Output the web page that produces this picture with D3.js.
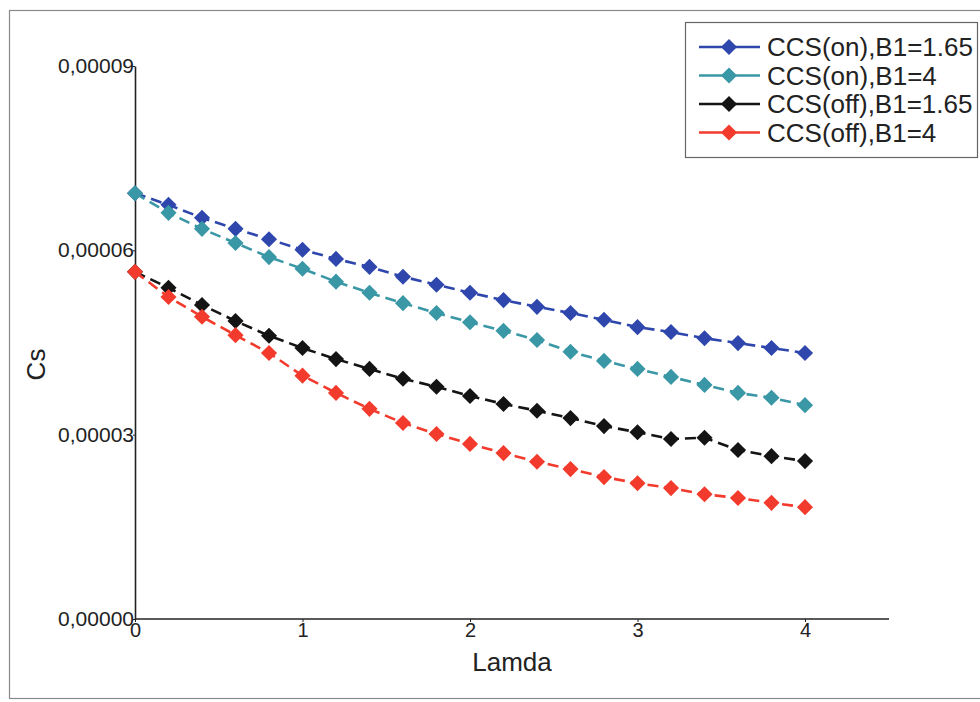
<!DOCTYPE html>
<html>
<head>
<meta charset="utf-8">
<script src="https://cdn.jsdelivr.net/npm/d3@7/dist/d3.min.js"></script>
<style>
  html, body { margin: 0; padding: 0; background: #fff; }
  svg { display: block; font-family: "Liberation Sans", Arial, sans-serif; }
</style>
</head>
<body>
<svg id="chart" width="980" height="702"></svg>
<script>
// Lamda values (x) shared by all series
const lamda = [0, 0.2, 0.4, 0.6, 0.8, 1.0, 1.2, 1.4, 1.6, 1.8, 2.0,
               2.2, 2.4, 2.6, 2.8, 3.0, 3.2, 3.4, 3.6, 3.8, 4.0];

// Cs values per series
const csOn165 = [6.93e-5, 6.74e-5, 6.53e-5, 6.35e-5, 6.18e-5, 6.01e-5, 5.86e-5, 5.73e-5, 5.57e-5, 5.44e-5, 5.31e-5,
                 5.19e-5, 5.08e-5, 4.98e-5, 4.87e-5, 4.75e-5, 4.67e-5, 4.57e-5, 4.49e-5, 4.41e-5, 4.33e-5];
const csOn4   = [6.93e-5, 6.61e-5, 6.35e-5, 6.12e-5, 5.89e-5, 5.70e-5, 5.49e-5, 5.31e-5, 5.14e-5, 4.98e-5, 4.83e-5,
                 4.69e-5, 4.54e-5, 4.35e-5, 4.20e-5, 4.07e-5, 3.94e-5, 3.81e-5, 3.68e-5, 3.60e-5, 3.48e-5];
const csOff165 = [5.65e-5, 5.39e-5, 5.11e-5, 4.85e-5, 4.61e-5, 4.41e-5, 4.23e-5, 4.07e-5, 3.91e-5, 3.78e-5, 3.63e-5,
                  3.50e-5, 3.39e-5, 3.27e-5, 3.14e-5, 3.04e-5, 2.93e-5, 2.95e-5, 2.75e-5, 2.65e-5, 2.57e-5];
const csOff4  = [5.65e-5, 5.24e-5, 4.92e-5, 4.62e-5, 4.33e-5, 3.96e-5, 3.68e-5, 3.42e-5, 3.19e-5, 3.01e-5, 2.85e-5,
                 2.70e-5, 2.56e-5, 2.44e-5, 2.31e-5, 2.21e-5, 2.13e-5, 2.03e-5, 1.97e-5, 1.89e-5, 1.82e-5];

const seriesNames  = ["CCS(on),B1=1.65", "CCS(on),B1=4", "CCS(off),B1=1.65", "CCS(off),B1=4"];
const seriesColors = ["#2f47ad", "#3a97a6", "#141414", "#f23b2c"];
const seriesValues = [csOn165, csOn4, csOff165, csOff4];

const xTicks = [0, 1, 2, 3, 4];
const yTicks = [0, 0.00003, 0.00006, 0.00009];
const yTickLabels = ["0,00000", "0,00003", "0,00006", "0,00009"];

const svg = d3.select("#chart");

// widen tick label glyphs horizontally (wide sans look)
function stretch(sel, k) {
  sel.each(function () {
    const w = this.getComputedTextLength();
    d3.select(this).attr("textLength", w * k).attr("lengthAdjust", "spacingAndGlyphs");
  });
}

// outer frame
svg.append("rect")
  .attr("x", 9.5).attr("y", 10.5).attr("width", 980).attr("height", 688)
  .attr("fill", "none").attr("stroke", "#8a8a8a").attr("stroke-width", 1.2);

const x = d3.scaleLinear().domain([0, 4]).range([135, 805]);
const y = d3.scaleLinear().domain([0, 0.00009]).range([619, 66]);

// x axis line extends past the last tick
svg.append("line")
  .attr("x1", x(0)).attr("x2", 889).attr("y1", y(0)).attr("y2", y(0))
  .attr("stroke", "#222").attr("stroke-width", 1.6);

const xAxis = svg.append("g")
  .attr("transform", `translate(0,${y(0)})`)
  .call(d3.axisBottom(x).tickValues(xTicks).tickFormat(d3.format("d")).tickSize(3).tickSizeOuter(0));
xAxis.select(".domain").remove();
xAxis.selectAll("line").attr("stroke", "#222");
xAxis.selectAll("text").attr("font-size", 20).attr("fill", "#222").attr("y", 3).attr("dy", "0.75em")
  .call(stretch, 1.0);

const yAxis = svg.append("g")
  .attr("transform", `translate(${x(0)},0)`)
  .call(d3.axisLeft(y).tickValues(yTicks).tickFormat((d, i) => yTickLabels[i]).tickSize(2).tickSizeOuter(0));
yAxis.select(".domain").attr("stroke", "#222").attr("stroke-width", 1.6);
yAxis.selectAll("line").attr("stroke", "#222");
yAxis.selectAll("text").attr("font-size", 20).attr("fill", "#222").attr("x", -1)
  .call(stretch, 1.05);

// axis titles
svg.append("text")
  .attr("x", 512).attr("y", 671)
  .attr("text-anchor", "middle").attr("font-size", 26).attr("fill", "#222")
  .text("Lamda");
svg.append("text")
  .attr("transform", `translate(45,${y(0.000045) + 22}) rotate(-90)`)
  .attr("text-anchor", "middle").attr("font-size", 26).attr("fill", "#222")
  .text("Cs");

const diamond = d3.symbol().type(d3.symbolSquare).size(130);

const line = d3.line()
  .x((d, i) => x(lamda[i]))
  .y(d => y(d));

seriesValues.forEach((vals, s) => {
  const g = svg.append("g");
  g.append("path")
    .datum(vals)
    .attr("d", line)
    .attr("fill", "none")
    .attr("stroke", seriesColors[s])
    .attr("stroke-width", 2.6)
    .attr("stroke-dasharray", "11,6");
  g.selectAll("path.pt")
    .data(vals)
    .join("path")
    .attr("class", "pt")
    .attr("d", diamond)
    .attr("transform", (d, i) => `translate(${x(lamda[i])},${y(d)}) rotate(45)`)
    .attr("fill", seriesColors[s]);
});

// legend
const legend = svg.append("g");
legend.append("rect")
  .attr("x", 685.5).attr("y", 22.5).attr("width", 292).attr("height", 135)
  .attr("fill", "#fff").attr("stroke", "#666").attr("stroke-width", 1.2);
seriesNames.forEach((name, s) => {
  const ly = 47 + s * 28.5;
  legend.append("line")
    .attr("x1", 699).attr("x2", 760).attr("y1", ly).attr("y2", ly)
    .attr("stroke", seriesColors[s]).attr("stroke-width", 2.6);
  legend.append("path")
    .attr("d", diamond)
    .attr("transform", `translate(729,${ly}) rotate(45)`)
    .attr("fill", seriesColors[s]);
  legend.append("text")
    .attr("x", 767).attr("y", ly + 9)
    .attr("font-size", 26).attr("fill", "#222")
    .text(name);
});
</script>
</body>
</html>
